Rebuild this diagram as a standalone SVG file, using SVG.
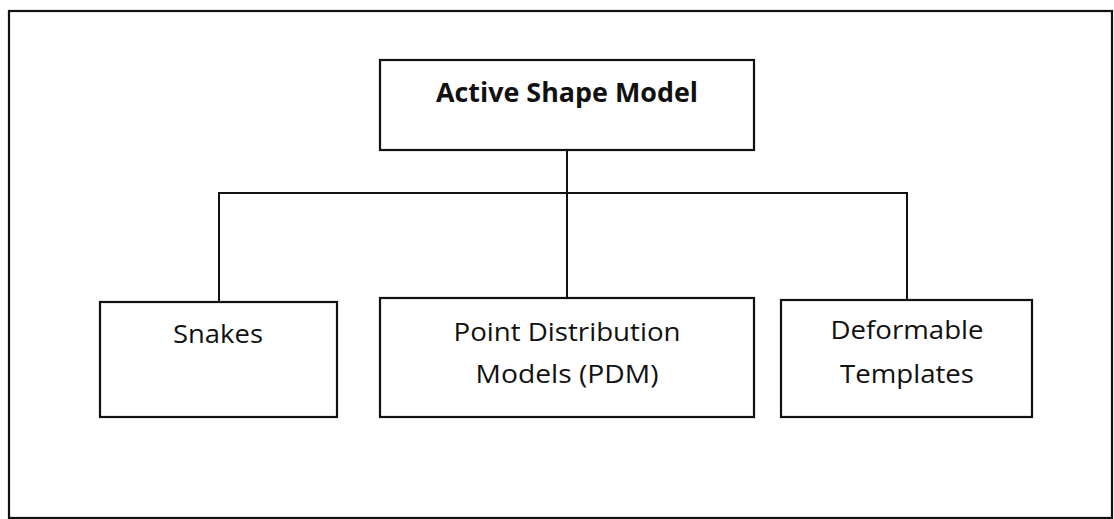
<svg xmlns="http://www.w3.org/2000/svg" width="1114" height="519" viewBox="0 0 1114 519">
<style>
.box{fill:#fff;stroke:#111;stroke-width:2.2}
.frame{fill:none;stroke:#111;stroke-width:2.2}
.conn{fill:none;stroke:#111;stroke-width:2}
.t{font-family:"Open Sans","Liberation Sans",sans-serif;font-size:25.5px;fill:#111;text-anchor:middle}
.b{font-weight:bold;font-size:26.5px}
</style>
<rect x="0" y="0" width="1114" height="519" fill="#fff"/>
<rect class="frame" x="9" y="11" width="1103" height="507"/>
<g id="connectors">
<line class="conn" x1="567" y1="150" x2="567" y2="298"/>
<polyline class="conn" points="219,302 219,193 907,193 907,300"/>
</g>
<g id="asm">
<rect class="box" x="380" y="60" width="374" height="90"/>
<text class="t b" x="567" y="102" textLength="262" lengthAdjust="spacingAndGlyphs">Active Shape Model</text>
</g>
<g id="snakes">
<rect class="box" x="100" y="302" width="237" height="115"/>
<text class="t" x="218" y="343" textLength="90" lengthAdjust="spacingAndGlyphs">Snakes</text>
</g>
<g id="pdm">
<rect class="box" x="380" y="298" width="374" height="119"/>
<text class="t" x="567" y="341" textLength="227" lengthAdjust="spacingAndGlyphs">Point Distribution</text>
<text class="t" x="567" y="383" textLength="183" lengthAdjust="spacingAndGlyphs">Models (PDM)</text>
</g>
<g id="deformable">
<rect class="box" x="781" y="300" width="251" height="117"/>
<text class="t" x="907" y="339" textLength="153" lengthAdjust="spacingAndGlyphs">Deformable</text>
<text class="t" x="907" y="383" textLength="134" lengthAdjust="spacingAndGlyphs">Templates</text>
</g>
</svg>
